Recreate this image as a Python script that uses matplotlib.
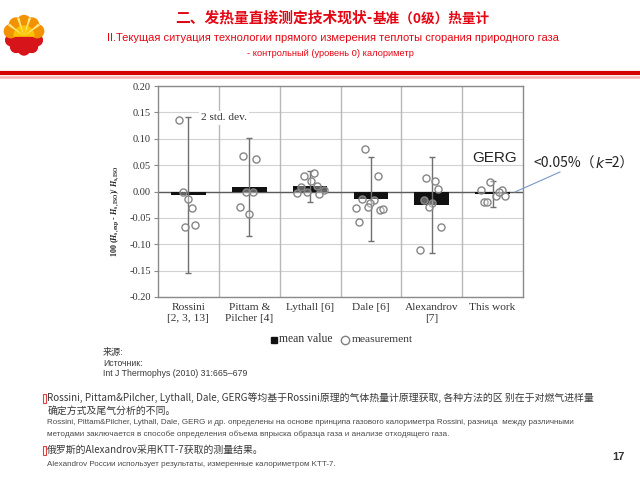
import matplotlib
matplotlib.use("Agg")
import matplotlib.pyplot as plt
import numpy as np
from matplotlib.patches import Rectangle, Wedge, Circle, Polygon
from matplotlib.lines import Line2D

plt.rcParams["axes.unicode_minus"] = False
plt.rcParams["mathtext.fontset"] = "custom"
plt.rcParams["mathtext.rm"] = "Liberation Serif:bold"
plt.rcParams["mathtext.bf"] = "Liberation Serif:bold"
plt.rcParams["mathtext.it"] = "Liberation Serif:italic:bold"

# ---- data ----
categories = ["Rossini\n[2, 3, 13]", "Pittam &\nPilcher [4]", "Lythall [6]",
              "Dale [6]", "Alexandrov\n[7]", "This work"]
mean_values = [-0.007, 0.009, 0.010, -0.014, -0.025, -0.005]
two_std = [0.148, 0.093, 0.029, 0.080, 0.091, 0.024]
measurements = [
    [0.135, 0.000, -0.014, -0.032, -0.068, -0.063],
    [0.068, 0.062, -0.001, -0.001, -0.030, -0.043],
    [0.030, 0.036, 0.020, 0.011, 0.008, 0.002, -0.003, -0.001, -0.004],
    [0.080, 0.029, -0.015, -0.017, -0.021, -0.032, -0.030, -0.035, -0.033, -0.057],
    [0.026, 0.019, 0.004, -0.017, -0.021, -0.029, -0.068, -0.110],
    [0.018, 0.002, 0.002, -0.008, -0.008, -0.019, -0.020, 0.000],
]
# horizontal scatter of the points inside each group (fraction of a group)
jitter = [
    [-0.155, -0.09, 0.0, 0.055, -0.055, 0.10],
    [-0.10, 0.105, -0.05, 0.06, -0.15, 0.0],
    [-0.095, 0.06, 0.01, 0.11, -0.15, 0.225, -0.21, -0.045, 0.15],
    [-0.095, 0.11, -0.15, 0.05, -0.01, -0.245, -0.05, 0.155, 0.205, -0.195],
    [-0.09, 0.06, 0.10, -0.135, 0.0, -0.045, 0.16, -0.195],
    [-0.04, -0.195, 0.16, 0.055, 0.205, -0.145, -0.085, 0.11],
]
y_ticks = [0.20, 0.15, 0.10, 0.05, 0.00, -0.05, -0.10, -0.15, -0.20]

title_big = "二、发热量直接测定技术现状-"
title_small = "基准（0级）热量计"
title_ru = "II.Текущая ситуация технологии прямого измерения теплоты сгорания природного газа"
title_ru2 = "- контрольный (уровень 0) калориметр"
source_lines = ["来源:", "Источник:", "Int J Thermophys (2010) 31:665–679"]
note1_cn = ["Rossini, Pittam&Pilcher, Lythall, Dale, GERG等均基于Rossini原理的气体热量计原理获取, 各种方法的区 别在于对燃气进样量",
            "确定方式及尾气分析的不同。"]
note1_ru = ["Rossini, Pittam&Pilcher, Lythall, Dale, GERG и др. определены на основе принципа газового калориметра Rossini, разница  между различными",
            "методами заключается в способе определения объема впрыска образца газа и анализе отходящего газа."]
note2_cn = "俄罗斯的Alexandrov采用KTT-7获取的测量结果。"
note2_ru = "Alexandrov России использует результаты, измеренные калориметром KTT-7."

W, H = 640, 480
fig = plt.figure(figsize=(6.4, 4.8), dpi=100)
renderer = fig.canvas.get_renderer()


def fx(x):
    return x / W


def fy(y):
    return 1 - y / H


def put(x, y, s, width=None, **kw):
    # text at pixel position, optionally scaled to a given pixel width
    t = fig.text(fx(x), fy(y), s, va="center", **kw)
    if width is not None:
        w = t.get_window_extent(renderer).width
        t.set_fontsize(t.get_fontsize() * width / w)
    return t


cjk = ["Noto Sans CJK SC", "DejaVu Sans"]
red = "#e30613"
body = "#3a3a3a"

# ---- logo ----
lax = fig.add_axes([fx(3), fy(60), 42 / W, 50 / H])
lax.set_xlim(0, 42)
lax.set_ylim(0, 50)
lax.axis("off")
c = (21, 24)
lax.add_patch(Wedge(c, 17, 180, 360, color="#d7141a"))
for a in [198, 234, 270, 306, 342]:
    r = np.radians(a)
    lax.add_patch(Circle((c[0] + 13.5 * np.cos(r), c[1] + 13.5 * np.sin(r)), 5.5, color="#d7141a"))
lax.add_patch(Wedge(c, 14, 0, 180, color="#f39200"))
for a in [20, 55, 90, 125, 160]:
    r = np.radians(a)
    lax.add_patch(Circle((c[0] + 14 * np.cos(r), c[1] + 14 * np.sin(r)), 6.5, color="#f39200"))
lax.add_patch(Wedge(c, 10, 0, 180, color="#fbc400"))
for a in [37, 72, 108, 143]:
    r1, r2 = np.radians(a - 4), np.radians(a + 4)
    lax.add_patch(Polygon([c, (c[0] + 19 * np.cos(r1), c[1] + 19 * np.sin(r1)),
                           (c[0] + 19 * np.cos(r2), c[1] + 19 * np.sin(r2))],
                          color="#ffe680", lw=0))

# ---- header ----
put(175, 18, title_big, width=197, family=cjk, color=red, fontweight="bold", fontsize=10)
put(373, 19, title_small, width=117, family=cjk, color=red, fontweight="bold", fontsize=8)
put(107, 38, title_ru, width=451, family="Liberation Sans", color=red, fontsize=8)
put(247, 53, title_ru2, width=170, family="Liberation Sans", color=red, fontsize=6)
fig.add_artist(Line2D([0, 1], [fy(72.5), fy(72.5)], color="#d40000", lw=3))
fig.add_artist(Line2D([0, 1], [fy(76.5), fy(76.5)], color="#f6b4b4", lw=1.8))

# ---- chart ----
ax = fig.add_axes([fx(158), fy(297), (523 - 158) / W, (297 - 86) / H])
x = np.arange(len(categories))
ax.set_xlim(-0.5, len(categories) - 0.5)
ax.set_ylim(-0.20, 0.20)

ax.bar(x, mean_values, width=0.57, color="#111111", zorder=3)
ax.errorbar(x, mean_values, yerr=two_std, fmt="none", ecolor="#707070",
            elinewidth=1, capsize=2.5, capthick=1, zorder=4)
for i in range(len(categories)):
    ax.scatter(i + np.array(jitter[i]), measurements[i], s=26,
               facecolor=(1, 1, 1, 0.35), edgecolor="#868686", linewidth=1, zorder=5)

ax.set_yticks(y_ticks)
ax.set_yticklabels(["%.2f" % v for v in y_ticks])
ax.yaxis.grid(True, color="#d2d2d2", lw=0.8)
ax.set_axisbelow(True)
for b in x[:-1] + 0.5:
    ax.axvline(b, color="#b8b8b8", lw=1, zorder=1)
ax.axhline(0, color="#5a5a5a", lw=1, zorder=2)
for s in ax.spines.values():
    s.set_color("#8a8a8a")
    s.set_linewidth(1)
ax.set_xticks(x)
ax.set_xticklabels(categories, family="Liberation Serif", fontsize=8.2,
                   color="#333333", linespacing=1.3)
for lab in ax.get_yticklabels():
    lab.set_family("Liberation Serif")
ax.tick_params(axis="y", length=3, color="#8a8a8a", labelsize=7.5, labelcolor="#333333", pad=2)
ax.tick_params(axis="x", length=0, pad=4)

ylab = fig.text(fx(115), fy(211),
                r"100 ($H_{\rm s,exp}$ - $H_{\rm s,ISO}$)/ $H_{\rm s,ISO}$",
                rotation=90, ha="center", va="center", family="Liberation Serif",
                fontweight="bold", fontsize=7.5, color="#222222")
h = ylab.get_window_extent(renderer).height
ylab.set_fontsize(7.5 * 92 / h)

put(201, 118, "2 std. dev.", width=46, family="Liberation Serif", color="#333333",
    fontsize=8, bbox=dict(facecolor="white", edgecolor="none", pad=1.5))

# legend
fig.add_artist(Line2D([fx(274)], [fy(340)], marker="s", ms=4.5, color="#111111", lw=0))
put(279, 339, "mean value", width=53, family="Liberation Serif", color="#333333", fontsize=8)
fig.add_artist(Line2D([fx(345)], [fy(340)], marker="o", ms=6, mfc="white",
                      mec="#808080", lw=0))
put(352, 339, "measurement", width=61, family="Liberation Serif", color="#333333", fontsize=8)

# annotation
put(472, 158, "GERG", width=45, family="Liberation Sans", color="#222222", fontsize=10.5)
fig.add_artist(Line2D([fx(515), fx(560)], [fy(192), fy(172)], color="#7a98c8", lw=0.8))
t1 = put(534, 164, "<0.05%（", family=cjk, color="#222222", fontsize=10)
x1 = t1.get_window_extent(renderer).x1
t2 = put(x1 + 0.5, 164, "k", family="DejaVu Sans", style="italic", color="#222222", fontsize=10)
x2 = t2.get_window_extent(renderer).x1
put(x2 + 0.5, 164, "=2）", family=cjk, color="#222222", fontsize=10)

# ---- notes ----
put(103, 352, source_lines[0], width=21, family=cjk, color=body, fontsize=6)
put(103, 363, source_lines[1], width=40, family="Liberation Sans", color=body, fontsize=6)
put(103, 374, source_lines[2], width=145, family="Liberation Sans", color=body, fontsize=6)

for yb in [398, 450]:
    fig.add_artist(Rectangle((fx(42.5), fy(yb + 5)), 3 / W, 9 / H, fill=False,
                             edgecolor="#e04040", lw=0.8))
cn = put(47, 398, note1_cn[0], width=548, family=cjk, color=body, fontsize=7)
cn_size = cn.get_fontsize()
put(48, 411, note1_cn[1], family=cjk, color=body, fontsize=cn_size)
put(47, 422, note1_ru[0], width=538, family="Liberation Sans", color="#4a4a4a", fontsize=6)
put(47, 434, note1_ru[1], width=405, family="Liberation Sans", color="#4a4a4a", fontsize=6)
put(47, 450, note2_cn, family=cjk, color=body, fontsize=cn_size)
put(47, 464, note2_ru, width=295, family="Liberation Sans", color="#4a4a4a", fontsize=6)

put(625, 457, "17", family="Liberation Sans", fontweight="bold", color="#333333",
    fontsize=8, ha="right")

fig.savefig("out.png", dpi=100)
